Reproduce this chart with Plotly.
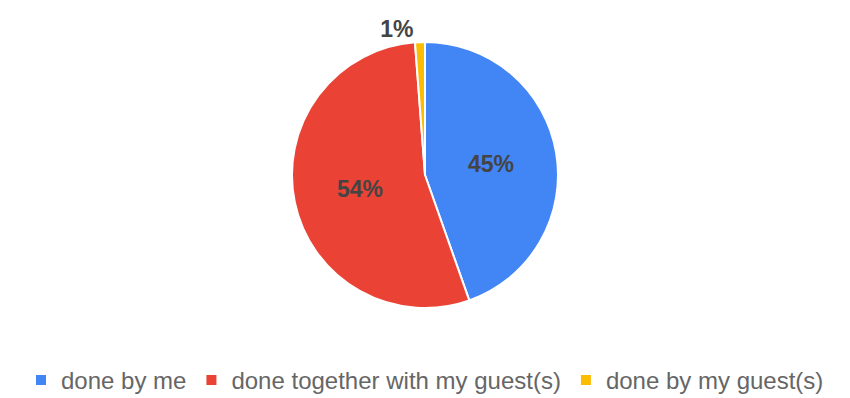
import plotly.graph_objects as go

labels = ["done by me", "done together with my guest(s)", "done by my guest(s)"]
values = [44.6, 54.2, 1.2]
colors = ["#4285F4", "#EA4335", "#FBBC04"]
text_positions = ["inside", "inside", "outside"]

W, H = 850, 398
BOTTOM_MARGIN = 40
plot_h = H - BOTTOM_MARGIN
pie_top, pie_bottom = 42, 308

fig = go.Figure(
    go.Pie(
        labels=labels,
        values=values,
        sort=False,
        direction="clockwise",
        rotation=0,
        marker=dict(colors=colors, line=dict(color="white", width=2)),
        texttemplate="<b>%{percent:.0%}</b>",
        textposition=text_positions,
        insidetextorientation="horizontal",
        textfont=dict(family="Arial, Liberation Sans", size=23, color="#444444"),
        outsidetextfont=dict(family="Arial, Liberation Sans", size=23, color="#444444"),
        hoverinfo="label+percent",
        domain=dict(x=[0, 1], y=[1 - pie_bottom / plot_h, 1 - pie_top / plot_h]),
    )
)

fig.update_layout(
    width=W,
    height=H,
    margin=dict(l=0, r=0, t=0, b=BOTTOM_MARGIN, autoexpand=False),
    paper_bgcolor="white",
    plot_bgcolor="white",
    showlegend=True,
    legend=dict(
        orientation="h",
        x=0.5,
        xanchor="center",
        y=0.0,
        yanchor="top",
        font=dict(family="Arial, Liberation Sans", size=24, color="#666666"),
        entrywidthmode="pixels",
        entrywidth=0,
    ),
)

fig.write_html("out.html")
